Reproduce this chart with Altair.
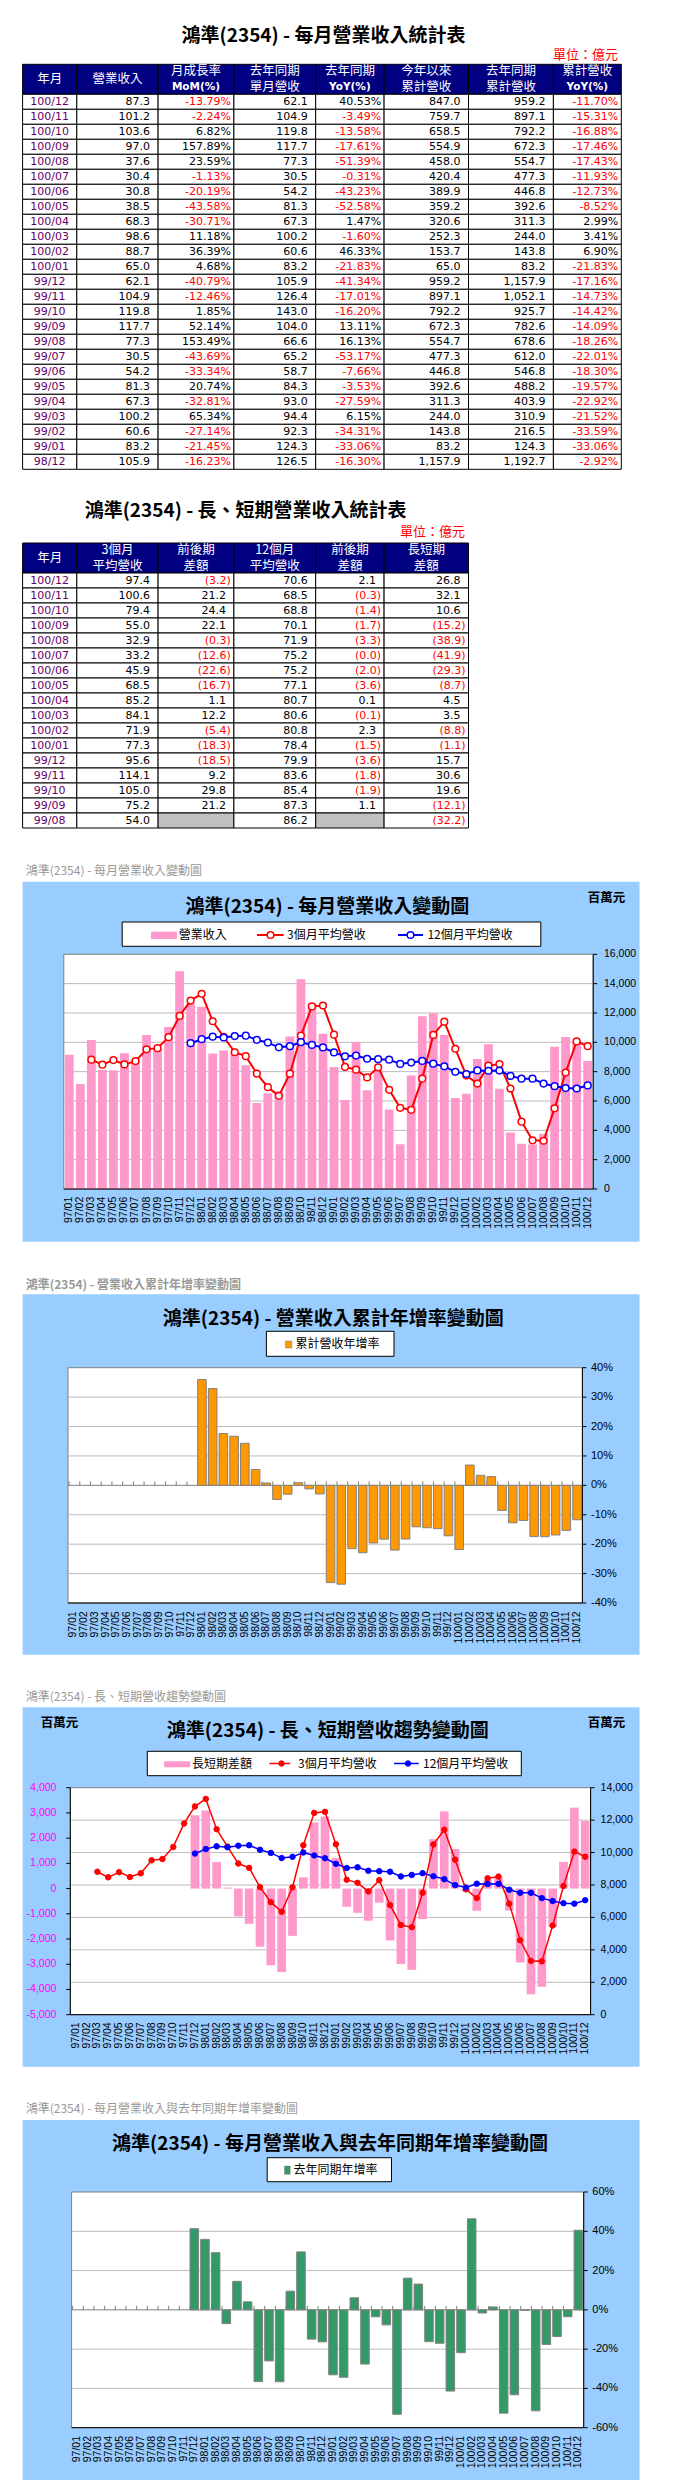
import math
import altair as alt
import pandas as pd

CJK = "Noto Sans CJK TC"
NUM = "DejaVu Sans"
AXF = "Liberation Sans"
W = 640
NAVY = "#000080"
PURPLE = "#660066"
GREY_CELL = "#C0C0C0"
PANEL = "#99CCFF"
GRID = "#BBBBBB"
LABEL_GRAY = "#999999"
PINK = "#FF99CC"
RED = "#FF0000"
BLUE = "#0000FF"

# ---------------- chart data (百萬元 / %) ----------------
months = [f"{y}/{m:02d}" for y in (97, 98, 99, 100) for m in range(1, 13)]

revenue = [9150, 7150, 10150, 8120, 8100, 9250, 8810, 10500, 9500, 11040, 14850, 12650,
           12430, 9230, 9440, 9300, 8430, 5870, 6520, 6660, 10400, 14300, 12640, 10590,
           8320, 6060, 10020, 6730, 8130, 5420, 3050, 7730, 11770, 11980, 10490, 6210,
           6500, 8870, 9860, 6830, 3850, 3080, 3040, 3760, 9700, 10360, 10120, 8730]

avg3_months = months[2:]
avg3 = [8817, 8473, 8790, 8490, 8720, 9520, 9603, 10347, 11797, 12847,
        13310, 11437, 10367, 9323, 9057, 7867, 6940, 6350, 7860, 10453, 12447, 12510,
        10517, 8323, 8133, 7603, 8293, 6760, 5533, 5400, 7520, 10500, 11410, 9560,
        7730, 7190, 8410, 8520, 6850, 4590, 3320, 3290, 5500, 7940, 10060, 9740]

avg12_months = months[11:]
avg12 = [9939,
         10213, 10386, 10327, 10425, 10453, 10171, 9980, 9660, 9735, 10007, 9823, 9651,
         9308, 9044, 9093, 8878, 8853, 8816, 8527, 8620, 8730, 8540, 8360, 7990,
         7840, 8080, 8060, 8070, 7710, 7520, 7520, 7190, 7010, 6880, 6850, 7060]

gap_months = months[11:]
gap = [2908,
       3097, 1051, 40, -1102, -1396, -2304, -3040, -3310, -1875, 446, 2624, 2859,
       1209, -721, -960, -1275, -560, -2056, -2994, -3220, -1210, 1960, 3060, 1570,
       -110, -880, 350, 450, -870, -2930, -4190, -3890, -1520, 1060, 3210, 2680]

cum_yoy_months = months[12:]
cum_yoy = [36.0, 32.9, 17.6, 16.7, 14.3, 5.4, 0.8, -4.8, -3.0, 0.9, -1.2, -2.92,
           -33.06, -33.59, -21.52, -22.92, -19.57, -18.30, -22.01, -18.26, -14.09, -14.42, -14.73, -17.16,
           -21.83, 6.90, 3.41, 2.99, -8.52, -12.73, -11.93, -17.43, -17.46, -16.88, -15.31, -11.70]

yoy_months = months[11:]
yoy = [41.3,
       35.9, 29.1, -7.0, 14.5, 4.1, -36.5, -26.0, -36.6, 9.5, 29.5, -14.9, -16.30,
       -33.06, -34.31, 6.15, -27.59, -3.53, -7.66, -53.17, 16.13, 13.11, -16.20, -17.01, -41.34,
       -21.83, 46.33, -1.60, 1.47, -52.58, -43.23, -0.31, -51.39, -17.61, -13.58, -3.49, 40.53]

# axis tick values
rev_ticks = [0, 2000, 4000, 6000, 8000, 10000, 12000, 14000, 16000]
cum_ticks = [-40, -30, -20, -10, 0, 10, 20, 30, 40]
gap_ticks = [-5000, -4000, -3000, -2000, -1000, 0, 1000, 2000, 3000, 4000]
avg_ticks = [0, 2000, 4000, 6000, 8000, 10000, 12000, 14000]
yoy_ticks = [-60, -40, -20, 0, 20, 40, 60]

# ---------------- table 1 (億元) ----------------
t1_ym = ["100/12", "100/11", "100/10", "100/09", "100/08", "100/07", "100/06", "100/05", "100/04",
         "100/03", "100/02", "100/01", "99/12", "99/11", "99/10", "99/09", "99/08", "99/07",
         "99/06", "99/05", "99/04", "99/03", "99/02", "99/01", "98/12"]
t1_rev = [87.3, 101.2, 103.6, 97.0, 37.6, 30.4, 30.8, 38.5, 68.3, 98.6, 88.7, 65.0, 62.1, 104.9,
          119.8, 117.7, 77.3, 30.5, 54.2, 81.3, 67.3, 100.2, 60.6, 83.2, 105.9]
t1_mom = [-13.79, -2.24, 6.82, 157.89, 23.59, -1.13, -20.19, -43.58, -30.71, 11.18, 36.39, 4.68,
          -40.79, -12.46, 1.85, 52.14, 153.49, -43.69, -33.34, 20.74, -32.81, 65.34, -27.14,
          -21.45, -16.23]
t1_last_rev = [62.1, 104.9, 119.8, 117.7, 77.3, 30.5, 54.2, 81.3, 67.3, 100.2, 60.6, 83.2, 105.9,
               126.4, 143.0, 104.0, 66.6, 65.2, 58.7, 84.3, 93.0, 94.4, 92.3, 124.3, 126.5]
t1_yoy = [40.53, -3.49, -13.58, -17.61, -51.39, -0.31, -43.23, -52.58, 1.47, -1.60, 46.33, -21.83,
          -41.34, -17.01, -16.20, 13.11, 16.13, -53.17, -7.66, -3.53, -27.59, 6.15, -34.31,
          -33.06, -16.30]
t1_ytd = [847.0, 759.7, 658.5, 554.9, 458.0, 420.4, 389.9, 359.2, 320.6, 252.3, 153.7, 65.0,
          959.2, 897.1, 792.2, 672.3, 554.7, 477.3, 446.8, 392.6, 311.3, 244.0, 143.8, 83.2, 1157.9]
t1_last_ytd = [959.2, 897.1, 792.2, 672.3, 554.7, 477.3, 446.8, 392.6, 311.3, 244.0, 143.8, 83.2,
               1157.9, 1052.1, 925.7, 782.6, 678.6, 612.0, 546.8, 488.2, 403.9, 310.9, 216.5,
               124.3, 1192.7]
t1_ytd_yoy = [-11.70, -15.31, -16.88, -17.46, -17.43, -11.93, -12.73, -8.52, 2.99, 3.41, 6.90,
              -21.83, -17.16, -14.73, -14.42, -14.09, -18.26, -22.01, -18.30, -19.57, -22.92,
              -21.52, -33.59, -33.06, -2.92]
t1_headers = [["年月"], ["營業收入"], ["月成長率", "MoM(%)"], ["去年同期", "單月營收"],
              ["去年同期", "YoY(%)"], ["今年以來", "累計營收"], ["去年同期", "累計營收"],
              ["累計營收", "YoY(%)"]]

# ---------------- table 2 (億元) ----------------
t2_ym = t1_ym[:17]
t2_avg3 = [97.4, 100.6, 79.4, 55.0, 32.9, 33.2, 45.9, 68.5, 85.2, 84.1, 71.9, 77.3, 95.6, 114.1,
           105.0, 75.2, 54.0]
t2_avg3_chg = [-3.2, 21.2, 24.4, 22.1, -0.3, -12.6, -22.6, -16.7, 1.1, 12.2, -5.4, -18.3, -18.5,
               9.2, 29.8, 21.2, None]
t2_avg12 = [70.6, 68.5, 68.8, 70.1, 71.9, 75.2, 75.2, 77.1, 80.7, 80.6, 80.8, 78.4, 79.9, 83.6,
            85.4, 87.3, 86.2]
t2_avg12_chg = [2.1, -0.3, -1.4, -1.7, -3.3, -0.0, -2.0, -3.6, 0.1, -0.1, 2.3, -1.5, -3.6, -1.8,
                -1.9, 1.1, None]
t2_gap = [26.8, 32.1, 10.6, -15.2, -38.9, -41.9, -29.3, -8.7, 4.5, 3.5, -8.8, -1.1, 15.7, 30.6,
          19.6, -12.1, -32.2]
t2_headers = [["年月"], ["3個月", "平均營收"], ["前後期", "差額"], ["12個月", "平均營收"],
              ["前後期", "差額"], ["長短期", "差額"]]

# ---------------- helpers ----------------
ONE = pd.DataFrame({"k": [0]})


def lxf(v):
    return v - 8


def txt(x, y, s, size=12.0, color="black", weight="normal", align="left", font=CJK):
    return alt.Chart(ONE).mark_text(text=s, fontSize=size, color=color, fontWeight=weight,
                                    align=align, baseline="middle", font=font).encode(
        x=alt.value(x), y=alt.value(y))


def box(x1, x2, y1, y2, fill, stroke=None, sw=1.0):
    kw = {"fill": fill, "opacity": 1}
    if stroke is not None:
        kw["stroke"] = stroke
        kw["strokeWidth"] = sw
    return alt.Chart(ONE).mark_rect(**kw).encode(
        x=alt.value(x1), x2=alt.value(x2), y=alt.value(y1), y2=alt.value(y2))


def seg(x1, x2, y, color, sw=2.0):
    return alt.Chart(ONE).mark_rule(color=color, strokeWidth=sw).encode(
        x=alt.value(x1), x2=alt.value(x2), y=alt.value(y))


def vseg(x, y1, y2, color, sw=1.0):
    return alt.Chart(ONE).mark_rule(color=color, strokeWidth=sw).encode(
        x=alt.value(x), y=alt.value(y1), y2=alt.value(y2))


def dot(x, y, stroke, fill, size, sw=1.5):
    return alt.Chart(ONE).mark_point(shape="circle", filled=True, fill=fill, stroke=stroke,
                                     strokeWidth=sw, size=size, opacity=1).encode(
        x=alt.value(x), y=alt.value(y))


def table_section(H, title, tx, ty, ux, uy, edges, y0, nrows, headers, cols, kinds):
    ncol = len(edges) - 1
    xs = alt.Scale(domain=list(range(ncol + 1)), range=edges, nice=False, zero=False)
    ys = alt.Scale(domain=[-2, nrows], range=[y0, y0 + 15 * (nrows + 2)], nice=False, zero=False)
    cells, texts = [], []
    for j in range(ncol):
        cells.append(dict(c0=j, c1=j + 1, r0=-2, r1=0, fill=NAVY))
        lines = headers[j]
        ypos = [-1.0] if len(lines) == 1 else [-1.53, -0.47]
        for s, yy in zip(lines, ypos):
            cls = "hl" if s.isascii() else "hc"
            texts.append(dict(tx=j + 0.5, ty=yy, text=s, color="white", cls=cls))
    for i in range(nrows):
        for j in range(ncol):
            v = cols[j][i]
            k = kinds[j]
            fill = "white"
            if k == "ym":
                texts.append(dict(tx=j + 0.5, ty=i + 0.5, text=v, color=PURPLE, cls="c"))
            elif k == "num":
                texts.append(dict(tx=j + 1, ty=i + 0.5, text=f"{v:,.1f}", color="black", cls="r8"))
            elif k == "pct":
                texts.append(dict(tx=j + 1, ty=i + 0.5, text=f"{v:.2f}%",
                                  color=RED if v < 0 else "black", cls="r3"))
            elif k == "acc":
                if v is None:
                    fill = GREY_CELL
                elif math.copysign(1.0, v) < 0:
                    texts.append(dict(tx=j + 1, ty=i + 0.5, text=f"({abs(v):,.1f})", color=RED, cls="r3"))
                else:
                    texts.append(dict(tx=j + 1, ty=i + 0.5, text=f"{v:,.1f}", color="black", cls="r8"))
            cells.append(dict(c0=j, c1=j + 1, r0=i, r1=i + 1, fill=fill))
    cdf = pd.DataFrame(cells)
    tdf = pd.DataFrame(texts)

    rects = alt.Chart(cdf).mark_rect(stroke="black", strokeWidth=1).encode(
        x=alt.X("c0:Q", scale=xs, axis=None), x2="c1:Q",
        y=alt.Y("r0:Q", scale=ys, axis=None), y2="r1:Q",
        fill=alt.Fill("fill:N", scale=None))

    def tl(cls, **mk):
        return alt.Chart(tdf[tdf.cls == cls]).mark_text(baseline="middle", **mk).encode(
            x=alt.X("tx:Q", scale=xs, axis=None), y=alt.Y("ty:Q", scale=ys, axis=None),
            text="text:N", color=alt.Color("color:N", scale=None))

    layers = [
        txt(tx, ty, title, size=19, weight="bold", align="center"),
        txt(ux, uy, "單位：億元", size=13, color=RED, align="right"),
        rects,
        tl("hc", font=CJK, fontSize=12.5, align="center"),
        tl("hl", font=NUM, fontSize=10.5, fontWeight="bold", align="center"),
        tl("c", font=NUM, fontSize=11, align="center"),
        tl("r8", font=NUM, fontSize=11, align="right", dx=-8),
        tl("r3", font=NUM, fontSize=11, align="right", dx=-3),
    ]
    return alt.layer(*layers).properties(width=W, height=H)


def xdef(pl, pr, band_pos=None):
    sc = alt.Scale(type="band", domain=months, range=[pl, pr], paddingInner=0.2, paddingOuter=0.1)
    kw = dict(scale=sc, axis=None, title=None)
    if band_pos is not None:
        kw["bandPosition"] = band_pos
    return alt.X("m:N", **kw)


def ydef(field, dom, pb, pt):
    return alt.Y(field, scale=alt.Scale(domain=dom, range=[pb, pt], nice=False), axis=None, title=None)


def fmt_thousands(v):
    return ("-" if v < 0 else "") + f"{abs(v):,}"


def x_labels(X, pb, pad):
    return alt.Chart(pd.DataFrame({"m": months})).mark_text(
        angle=270, align="right", baseline="middle", font=AXF, fontSize=10.5, color="black").encode(
        x=X, y=alt.value(pb + pad), text="m:N")


def y_labels(Y, ticks, labels, x, align, color="black", size=10.5):
    df = pd.DataFrame({"v": ticks, "t": labels})
    return alt.Chart(df).mark_text(align=align, baseline="middle", font=AXF, fontSize=size,
                                   color=color).encode(y=Y, x=alt.value(x), text="t:N")


def y_ticks(Y, ticks, x1, x2):
    return alt.Chart(pd.DataFrame({"v": ticks})).mark_rule(color="black", strokeWidth=1).encode(
        y=Y, x=alt.value(x1), x2=alt.value(x2))


def frame(ly, H, label, bold, label_y, py1, py2, title, title_x, title_y, plot):
    pl, pr, pt, pb = plot
    return [
        box(0, 1, 0, H, "white"),  # keeps the section's full height
        txt(lxf(24.7), ly(label_y), label, size=12, color=LABEL_GRAY, weight="bold" if bold else "normal"),
        box(lxf(21.6), lxf(638.5), ly(py1), ly(py2), PANEL),
        txt(lxf(title_x), ly(title_y), title, size=19, weight="bold", align="center"),
        box(pl, pr, pt, pb, "white", "#808080", 1),
    ]


def axes_lines(pl, pr, pt, pb, right=True, left=False):
    out = [seg(pl, pr, pb, "black", 1)]
    if right:
        out.append(vseg(pr, pt, pb, "black", 1))
    if left:
        out.append(vseg(pl, pt, pb, "black", 1))
    return out


# ================= section 1: table 1 =================
T = 8
edges1 = [lxf(v) for v in [21.6, 75.8, 157.1, 232.9, 314.7, 383.1, 467.5, 552.4, 620.3]]
s1 = table_section(482, "鴻準(2354) - 每月營業收入統計表", lxf(322.5), 35 - T, lxf(617), 54 - T,
                   edges1, 63.3 - T, 25, t1_headers,
                   [t1_ym, t1_rev, t1_mom, t1_last_rev, t1_yoy, t1_ytd, t1_last_ytd, t1_ytd_yoy],
                   ["ym", "num", "pct", "num", "pct", "num", "num", "pct"])

# ================= section 2: table 2 =================
T = 490
s2 = table_section(362, "鴻準(2354) - 長、短期營業收入統計表", lxf(244.6), 508.3 - T, lxf(464), 529.3 - T,
                   edges1[:7], 540 - T, 17, t2_headers,
                   [t2_ym, t2_avg3, t2_avg3_chg, t2_avg12, t2_avg12_chg, t2_gap],
                   ["ym", "num", "acc", "num", "acc", "acc"])

# ================= section 3: monthly revenue chart =================
T3, H3 = 852, 410
ly3 = lambda v: v - T3
pl, pr, pt, pb = lxf(62.8), lxf(592.2), ly3(949.3), ly3(1184)
X1 = xdef(pl, pr)
Y1 = ydef("v:Q", [0, 16000], pb, pt)

df_rev = pd.DataFrame({"m": months, "v": revenue})
df_a3 = pd.DataFrame({"m": avg3_months, "v": avg3, "i": list(range(len(avg3)))})
df_a12 = pd.DataFrame({"m": avg12_months, "v": avg12, "i": list(range(len(avg12)))})

l3 = frame(ly3, H3, "鴻準(2354) - 每月營業收入變動圖", False, 866, 876.7, 1236.7,
           "鴻準(2354) - 每月營業收入變動圖", 326.4, 901.7, (pl, pr, pt, pb))
l3 += [
    txt(lxf(605.6), ly3(893), "百萬元", size=12.5, weight="bold", align="center"),
    box(lxf(121.2), lxf(539.8), ly3(917), ly3(941.3), "white", "black", 1),
    box(lxf(150), lxf(176), ly3(926.7), ly3(934), PINK),
    txt(lxf(177.7), ly3(930), "營業收入"),
    seg(lxf(256), lxf(282.7), ly3(930), RED, 2),
    dot(lxf(269.5), ly3(930), RED, "white", 45),
    txt(lxf(286), ly3(930), "3個月平均營收"),
    seg(lxf(397), lxf(422), ly3(930), BLUE, 2),
    dot(lxf(409.5), ly3(930), BLUE, "white", 45),
    txt(lxf(426.4), ly3(930), "12個月平均營收"),
    alt.Chart(pd.DataFrame({"v": rev_ticks[1:-1]})).mark_rule(color=GRID, strokeWidth=1).encode(
        y=Y1, x=alt.value(pl), x2=alt.value(pr)),
    alt.Chart(df_rev).mark_bar(color=PINK).encode(x=X1, y=Y1, y2=alt.datum(0)),
    alt.Chart(df_a3).mark_line(color=RED, strokeWidth=2).encode(x=X1, y=Y1, order="i:Q"),
    alt.Chart(df_a3).mark_point(shape="circle", filled=True, fill="white", stroke=RED,
                                strokeWidth=1.5, size=45, opacity=1).encode(x=X1, y=Y1),
    alt.Chart(df_a12).mark_line(color=BLUE, strokeWidth=2).encode(x=X1, y=Y1, order="i:Q"),
    alt.Chart(df_a12).mark_point(shape="circle", filled=True, fill="white", stroke=BLUE,
                                 strokeWidth=1.5, size=45, opacity=1).encode(x=X1, y=Y1),
]
l3 += axes_lines(pl, pr, pt, pb)
l3 += [
    y_ticks(Y1, rev_ticks, pr, pr + 4),
    y_labels(Y1, rev_ticks, [fmt_thousands(v) for v in rev_ticks], pr + 10.8, "left"),
    x_labels(X1, pb, 7.7),
]
s3 = alt.layer(*l3).properties(width=W, height=H3)


# ================= percent bar chart builder =================
def pct_section(T, H, label, bold, label_y, py1, py2, title, title_x, title_y, plot_page,
                dom, ticks, grid_vals, data_m, data_v, color, legend_box, swatch, leg_text, leg_xy,
                xpad, ypad):
    ly = lambda v: v - T
    pl, pr, pt, pb = lxf(plot_page[0]), lxf(plot_page[1]), ly(plot_page[2]), ly(plot_page[3])
    X = xdef(pl, pr)
    Xt = xdef(pl, pr, band_pos=0)
    Y = ydef("v:Q", dom, pb, pt)
    zero_px = pb + (pt - pb) * (0 - dom[0]) / (dom[1] - dom[0])
    df = pd.DataFrame({"m": data_m, "v": data_v})
    df_ticks = pd.DataFrame({"m": months, "v": [0] * len(months)})
    layers = frame(ly, H, label, bold, label_y, py1, py2, title, title_x, title_y, (pl, pr, pt, pb))
    layers += [
        box(lxf(legend_box[0]), lxf(legend_box[1]), ly(legend_box[2]), ly(legend_box[3]), "white", "black", 1),
        box(lxf(swatch[0]), lxf(swatch[1]), ly(swatch[2]), ly(swatch[3]), color, "#808080", 0.5),
        txt(lxf(leg_xy[0]), ly(leg_xy[1]), leg_text),
        alt.Chart(pd.DataFrame({"v": grid_vals})).mark_rule(color=GRID, strokeWidth=1).encode(
            y=Y, x=alt.value(pl), x2=alt.value(pr)),
        alt.Chart(ONE.assign(v=0)).mark_rule(color="#808080", strokeWidth=1).encode(
            y=Y, x=alt.value(pl), x2=alt.value(pr)),
        alt.Chart(df_ticks).mark_rule(color="#808080", strokeWidth=1).encode(
            x=Xt, y=Y, y2=alt.value(zero_px - 4)),
        alt.Chart(df).mark_bar(color=color, stroke="#808080", strokeWidth=1).encode(
            x=X, y=Y, y2=alt.datum(0)),
    ]
    layers += axes_lines(pl, pr, pt, pb)
    layers += [
        y_ticks(Y, ticks, pr, pr + 4),
        y_labels(Y, ticks, [f"{v}%" for v in ticks], pr + ypad, "left", size=11),
        x_labels(X, pb, xpad),
    ]
    return alt.layer(*layers).properties(width=W, height=H)


# ================= section 4: cumulative YoY chart =================
s4 = pct_section(1262, 411, "鴻準(2354) -  營業收入累計年增率變動圖", True, 1277.7, 1287.3, 1647.7,
                 "鴻準(2354) -  營業收入累計年增率變動圖", 332.3, 1311.7, (67, 581.4, 1360.7, 1596),
                 [-40, 40], cum_ticks, [-30, -20, -10, 10, 20, 30], cum_yoy_months, cum_yoy, "#FF9900",
                 (265.4, 393, 1324.3, 1349.3), (284.4, 290.9, 1334, 1341), "累計營收年增率",
                 (294.4, 1337), 8.3, 8.6)

# ================= section 5: long / short trend chart =================
T5, H5 = 1673, 411
ly5 = lambda v: v - T5
pl, pr, pt, pb = lxf(69.3), lxf(589.6), ly5(1778.7), ly5(2005.7)
X5 = xdef(pl, pr)
YL = ydef("v:Q", [-5000, 4000], pb, pt)
YR = ydef("v:Q", [0, 14000], pb, pt)

df_gap = pd.DataFrame({"m": gap_months, "v": gap})

l5 = frame(ly5, H5, "鴻準(2354) -  長、短期營收趨勢變動圖", False, 1687.7, 1698.3, 2057.7,
           "鴻準(2354) -  長、短期營收趨勢變動圖", 326.8, 1722.3, (pl, pr, pt, pb))
l5 += [
    txt(lxf(58.4), ly5(1714.3), "百萬元", size=12.5, weight="bold", align="center"),
    txt(lxf(605.6), ly5(1714.3), "百萬元", size=12.5, weight="bold", align="center"),
    box(lxf(146.3), lxf(520.3), ly5(1742.3), ly5(1766.7), "white", "black", 1),
    box(lxf(163.2), lxf(189.2), ly5(1752.3), ly5(1758.3), PINK),
    txt(lxf(191), ly5(1754.5), "長短期差額"),
    seg(lxf(268.4), lxf(289.2), ly5(1754.5), RED, 1.5),
    dot(lxf(280.5), ly5(1754.5), RED, RED, 30, 1),
    txt(lxf(297), ly5(1754.5), "3個月平均營收"),
    seg(lxf(393), lxf(417.7), ly5(1754.5), BLUE, 1.5),
    dot(lxf(407), ly5(1754.5), BLUE, BLUE, 30, 1),
    txt(lxf(422), ly5(1754.5), "12個月平均營收"),
]
bars5 = alt.layer(
    alt.Chart(df_gap).mark_bar(color=PINK).encode(x=X5, y=YL, y2=alt.datum(0)),
    y_ticks(YL, gap_ticks, pl - 4, pl),
    y_labels(YL, gap_ticks, [fmt_thousands(v) for v in gap_ticks], lxf(55.4), "right", color="#FF00FF"),
)
lines5 = alt.layer(
    alt.Chart(pd.DataFrame({"v": avg_ticks[1:-1]})).mark_rule(color=GRID, strokeWidth=1).encode(
        y=YR, x=alt.value(pl), x2=alt.value(pr)),
)
lines5b = alt.layer(
    alt.Chart(df_a3).mark_line(color=RED, strokeWidth=1.5).encode(x=X5, y=YR, order="i:Q"),
    alt.Chart(df_a3).mark_point(shape="circle", filled=True, fill=RED, stroke=RED,
                                strokeWidth=1, size=30, opacity=1).encode(x=X5, y=YR),
    alt.Chart(df_a12).mark_line(color=BLUE, strokeWidth=1.5).encode(x=X5, y=YR, order="i:Q"),
    alt.Chart(df_a12).mark_point(shape="circle", filled=True, fill=BLUE, stroke=BLUE,
                                 strokeWidth=1, size=30, opacity=1).encode(x=X5, y=YR),
    y_ticks(YR, avg_ticks, pr, pr + 4),
    y_labels(YR, avg_ticks, [fmt_thousands(v) for v in avg_ticks], lxf(599.6), "left"),
)
l5 += [lines5, bars5, lines5b]
l5 += axes_lines(pl, pr, pt, pb, right=True, left=True)
l5 += [x_labels(X5, pb, 7.6)]
s5 = alt.layer(*l5).resolve_scale(y="independent").properties(width=W, height=H5)

# ================= section 6: monthly YoY chart =================
s6 = pct_section(2084, 400, "鴻準(2354) -  每月營業收入與去年同期年增率變動圖", False, 2098.3, 2109, 2469,
                 "鴻準(2354) -  每月營業收入與去年同期年增率變動圖", 329, 2133.3, (70.6, 582.7, 2181, 2416.7),
                 [-60, 60], yoy_ticks, [-40, -20, 20, 40], yoy_months, yoy, "#339966",
                 (266.2, 390.5, 2146.7, 2170.7), (283.5, 289.2, 2155, 2163.3), "去年同期年增率",
                 (292.6, 2159.3), 8.3, 8.6)

chart = alt.vconcat(s1, s2, s3, s4, s5, s6, spacing=0).properties(padding=0).configure_view(
    stroke="transparent")

chart.save("out.html", embed_options={"renderer": "svg", "actions": False})
